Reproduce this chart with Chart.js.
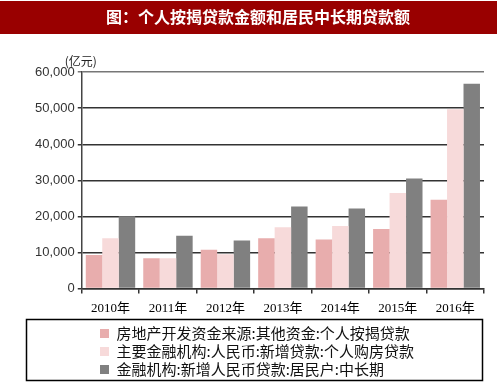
<!DOCTYPE html>
<html>
<head>
<meta charset="utf-8">
<script src="https://cdn.jsdelivr.net/npm/chart.js@4"></script>
<style>
  html, body { margin: 0; padding: 0; background: #fff; }
  #box { width: 497px; height: 389px; }
</style>
</head>
<body>
<div id="box"><canvas id="loans"></canvas></div>
<script>
// ---------------------------------------------- data
const years = ['2010年', '2011年', '2012年', '2013年', '2014年', '2015年', '2016年'];
const mortgage = [9300, 8400, 10700, 13900, 13600, 16500, 24600];
const housingLoans = [13900, 8400, 9500, 17000, 17300, 26500, 49700];
const midLongLoans = [20000, 14600, 13300, 22700, 22200, 30500, 56800];
const seriesNames = [
  '房地产开发资金来源:其他资金:个人按揭贷款',
  '主要金融机构:人民币:新增贷款:个人购房贷款',
  '金融机构:新增人民币贷款:居民户:中长期'
];
const yTicks = [0, 10000, 20000, 30000, 40000, 50000, 60000];

const cjk = '"Noto Sans CJK SC", sans-serif';

// ---------------------------------------------- decorations
const decor = {
  id: 'decor',
  beforeDraw(chart) {
    const ctx = chart.ctx;
    ctx.save();
    ctx.fillStyle = '#fff';
    ctx.fillRect(0, 0, chart.width, chart.height);
    ctx.fillStyle = '#990000';
    ctx.fillRect(0, 1, chart.width, 33);
    ctx.restore();
  },
  afterLayout(chart) {
    chart.legend.left = 97;
  },
  afterDraw(chart) {
    const ctx = chart.ctx;
    const a = chart.chartArea;
    ctx.save();
    ctx.fillStyle = '#222';
    ctx.font = '12px ' + cjk;
    ctx.textAlign = 'center';
    ctx.textBaseline = 'middle';
    ctx.fillText('(亿元)', a.left - 1, a.top - 11);
    // legend frame
    ctx.strokeStyle = '#000';
    ctx.lineWidth = 1.5;
    ctx.strokeRect(26.5, 319.5, 456, 61);
    ctx.restore();
  }
};

const data = {
  labels: years,
  datasets: [{
    label: seriesNames[0],
    data: mortgage,
    backgroundColor: '#E8ADAD'
  }, {
    label: seriesNames[1],
    data: housingLoans,
    backgroundColor: '#F7DADA'
  }, {
    label: seriesNames[2],
    data: midLongLoans,
    backgroundColor: '#808080'
  }]
};

const config = {
  type: 'bar',
  data: data,
  plugins: [decor],
  options: {
    responsive: true,
    maintainAspectRatio: false,
    animation: false,
    layout: { padding: { left: 32, right: 13, bottom: 2, top: 0 } },
    datasets: {
      bar: { categoryPercentage: 0.86, barPercentage: 1 }
    },
    scales: {
      x: {
        grid: {
          offset: true,
          drawOnChartArea: false,
          drawTicks: true,
          tickLength: 5,
          color: '#333',
          lineWidth: 1.5
        },
        border: { color: '#333', width: 1.5 },
        ticks: {
          color: '#000',
          font: { family: '"Liberation Serif", ' + cjk, size: 13 },
          padding: 7
        }
      },
      y: {
        min: 0,
        max: 60000,
        afterBuildTicks(scale) {
          scale.ticks = yTicks.map(v => ({ value: v }));
        },
        grid: {
          color: c => (c.tick && c.tick.value === 60000) ? '#777' : '#333',
          lineWidth: 1.5,
          tickLength: 4
        },
        border: { color: '#444', width: 1.5 },
        ticks: {
          color: '#333',
          font: { family: '"Liberation Sans", Arial, sans-serif', size: 13 },
          padding: 3
        }
      }
    },
    plugins: {
      title: {
        display: true,
        text: '图：个人按揭贷款金额和居民中长期贷款额',
        color: '#fff',
        font: { family: cjk, size: 16, weight: 'bold' },
        padding: { top: 7, bottom: 46 }
      },
      legend: {
        position: 'bottom',
        align: 'start',
        labels: {
          boxWidth: 9,
          boxHeight: 9,
          padding: 3,
          color: '#111',
          font: { family: cjk, size: 15, lineHeight: 1 }
        }
      },
      tooltip: { enabled: false }
    }
  }
};

var chartLoans = new Chart(
  document.getElementById('loans'),
  config
);
</script>
</body>
</html>
